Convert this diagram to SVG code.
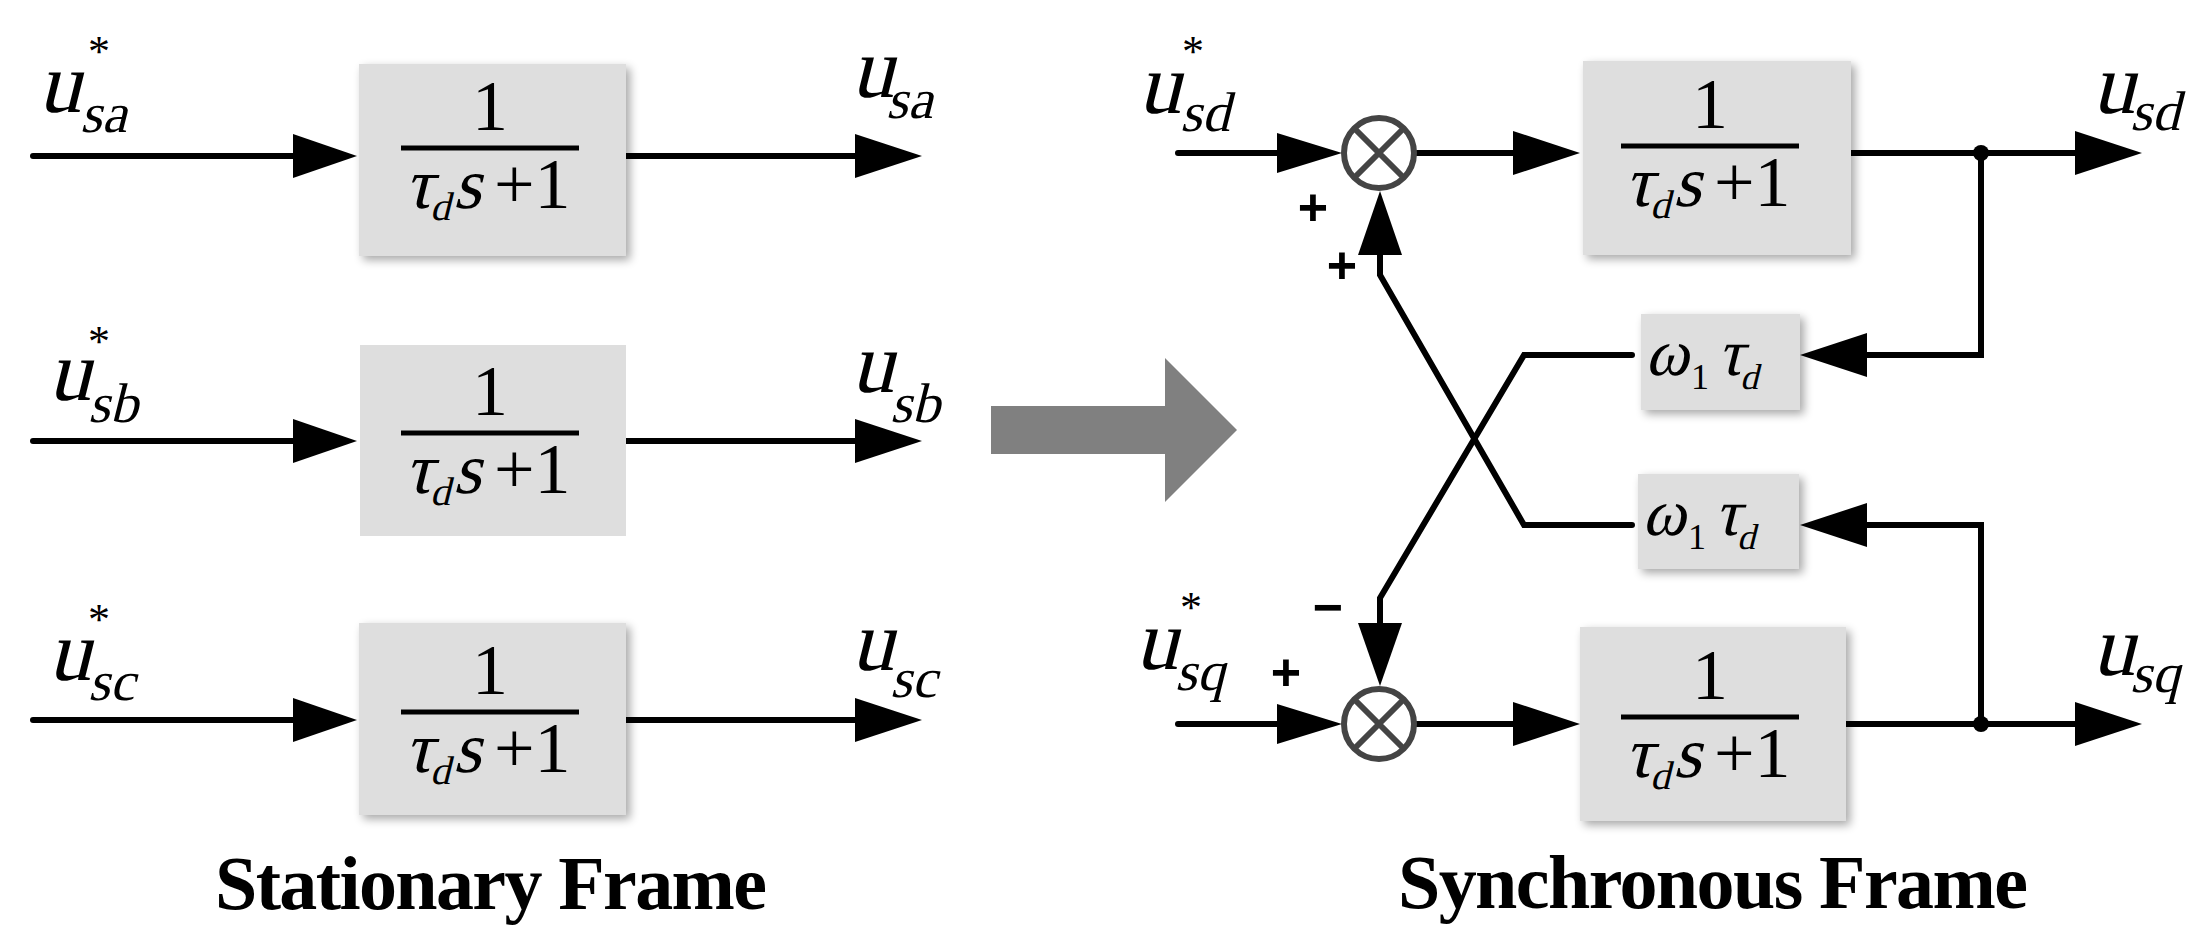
<svg xmlns="http://www.w3.org/2000/svg" width="2198" height="950" viewBox="0 0 2198 950">
<style>
.ln{stroke:#000;stroke-width:6;fill:none;stroke-linecap:round}
.bx{fill:#dedede}
.ah{fill:#000}
.v{font-family:"Liberation Serif","Times New Roman",serif;font-style:normal;fill:#000}
.n{font-family:"Liberation Serif","Times New Roman",serif;fill:#000}
.sg{font-family:"Liberation Sans",sans-serif;font-weight:bold;font-size:52px;fill:#000;text-anchor:middle}
.ttl{font-family:"Liberation Serif","Times New Roman",serif;font-weight:bold;font-size:76px;fill:#000;text-anchor:middle}
.sum{fill:#fff;stroke:#444;stroke-width:6}
</style>
<defs>
<filter id="sh" x="-10%" y="-10%" width="125%" height="125%"><feGaussianBlur in="SourceAlpha" stdDeviation="5"/><feOffset dx="4" dy="4"/><feComponentTransfer><feFuncA type="linear" slope="0.35"/></feComponentTransfer><feMerge><feMergeNode/><feMergeNode in="SourceGraphic"/></feMerge></filter>
<g id="frac">
<text class="n" x="0" y="-18" font-size="72" text-anchor="middle">1</text>
<line x1="-89" y1="0" x2="89" y2="0" stroke="#000" stroke-width="5"/>
<text class="v" font-size="72" transform="translate(-86 60) skewX(-14)">τ<tspan font-size="40" dy="12">d</tspan><tspan dy="-12">s</tspan></text>
<text class="n" x="4" y="60" font-size="72">+1</text>
</g>
<g id="gain">
<text class="v" font-size="66" transform="translate(4 61) skewX(-14)">ω</text>
<text class="n" x="50" y="75" font-size="36">1</text>
<text class="v" font-size="66" transform="translate(76 61) skewX(-14)">τ<tspan font-size="36" dy="14">d</tspan></text>
</g>
</defs>

<g id="connectors">
<line class="ln" x1="33" y1="156" x2="300" y2="156"/><polygon class="ah" points="293,134 357,156 293,178"/>
<line class="ln" x1="626" y1="156" x2="860" y2="156"/><polygon class="ah" points="855,134 922,156 855,178"/>
<line class="ln" x1="33" y1="441" x2="300" y2="441"/><polygon class="ah" points="293,419 357,441 293,463"/>
<line class="ln" x1="626" y1="441" x2="860" y2="441"/><polygon class="ah" points="855,419 922,441 855,463"/>
<line class="ln" x1="33" y1="720" x2="300" y2="720"/><polygon class="ah" points="293,698 357,720 293,742"/>
<line class="ln" x1="626" y1="720" x2="860" y2="720"/><polygon class="ah" points="855,698 922,720 855,742"/>

<polygon fill="#808080" points="991,406 1165,406 1165,358 1237,430 1165,502 1165,454 991,454"/>

<line class="ln" x1="1178" y1="153" x2="1285" y2="153"/><polygon class="ah" points="1277,133 1342,153 1277,173"/>
<line class="ln" x1="1417" y1="153" x2="1520" y2="153"/><polygon class="ah" points="1513,131 1580,153 1513,175"/>
<line class="ln" x1="1851" y1="153" x2="2080" y2="153"/><polygon class="ah" points="2075,131 2142,153 2075,175"/>
<line class="ln" x1="1178" y1="724" x2="1285" y2="724"/><polygon class="ah" points="1277,704 1342,724 1277,744"/>
<line class="ln" x1="1417" y1="724" x2="1520" y2="724"/><polygon class="ah" points="1513,702 1580,724 1513,746"/>
<line class="ln" x1="1846" y1="724" x2="2080" y2="724"/><polygon class="ah" points="2075,702 2142,724 2075,746"/>
<polyline class="ln" points="1981,153 1981,355 1860,355"/><polygon class="ah" points="1867,333 1800,355 1867,377"/>
<polyline class="ln" points="1981,724 1981,525 1860,525"/><polygon class="ah" points="1867,503 1800,525 1867,547"/>
<polyline class="ln" points="1632,355 1524,355 1380,598 1380,630"/><polygon class="ah" points="1358,623 1380,686 1402,623"/>
<polyline class="ln" points="1632,525 1524,525 1380,275 1380,250"/><polygon class="ah" points="1358,255 1380,191 1402,255"/>
<circle cx="1981" cy="153" r="8"/><circle cx="1981" cy="724" r="8"/>
</g>

<g id="block-a"><rect class="bx" x="359" y="64" width="267" height="192" filter="url(#sh)"/><use href="#frac" x="490" y="148"/></g>
<g id="block-b"><rect class="bx" x="360" y="345" width="266" height="191"/><use href="#frac" x="490" y="433"/></g>
<g id="block-c"><rect class="bx" x="359" y="623" width="267" height="192" filter="url(#sh)"/><use href="#frac" x="490" y="712"/></g>
<g id="block-d"><rect class="bx" x="1583" y="61" width="268" height="194" filter="url(#sh)"/><use href="#frac" x="1710" y="146"/></g>
<g id="block-q"><rect class="bx" x="1580" y="627" width="266" height="194" filter="url(#sh)"/><use href="#frac" x="1710" y="717"/></g>
<g id="gain-top"><rect class="bx" x="1641" y="314" width="159" height="96" filter="url(#sh)"/><use href="#gain" x="1641" y="314"/></g>
<g id="gain-bot"><rect class="bx" x="1638" y="474" width="161" height="95" filter="url(#sh)"/><use href="#gain" x="1638" y="474"/></g>
<g id="sum-d"><circle class="sum" cx="1379" cy="153" r="35"/><path d="M1354,128L1404,178M1404,128L1354,178" stroke="#444" stroke-width="6"/></g>
<g id="sum-q"><circle class="sum" cx="1379" cy="724" r="35"/><path d="M1354,699L1404,749M1404,699L1354,749" stroke="#444" stroke-width="6"/></g>

<g id="labels">
<text class="v" font-size="86" transform="translate(38 112) skewX(-14)">u</text><text class="n" x="88" y="66" font-size="44">*</text><text class="v" font-size="56" transform="translate(80 132) skewX(-14)">sa</text>
<text class="v" font-size="86" transform="translate(851 97) skewX(-14)">u</text><text class="v" font-size="56" transform="translate(886 118) skewX(-14)">sa</text>
<text class="v" font-size="86" transform="translate(48 400) skewX(-14)">u</text><text class="n" x="88" y="356" font-size="44">*</text><text class="v" font-size="56" transform="translate(88 422) skewX(-14)">sb</text>
<text class="v" font-size="86" transform="translate(851 392) skewX(-14)">u</text><text class="v" font-size="56" transform="translate(890 422) skewX(-14)">sb</text>
<text class="v" font-size="86" transform="translate(48 680) skewX(-14)">u</text><text class="n" x="88" y="634" font-size="44">*</text><text class="v" font-size="56" transform="translate(88 700) skewX(-14)">sc</text>
<text class="v" font-size="86" transform="translate(851 670) skewX(-14)">u</text><text class="v" font-size="56" transform="translate(890 697) skewX(-14)">sc</text>
<text class="v" font-size="86" transform="translate(1138 113) skewX(-14)">u</text><text class="n" x="1182" y="66" font-size="44">*</text><text class="v" font-size="56" transform="translate(1180 131) skewX(-14)">sd</text>
<text class="v" font-size="86" transform="translate(2092 113) skewX(-14)">u</text><text class="v" font-size="56" transform="translate(2130 130) skewX(-14)">sd</text>
<text class="v" font-size="86" transform="translate(1135 669) skewX(-14)">u</text><text class="n" x="1180" y="622" font-size="44">*</text><text class="v" font-size="56" transform="translate(1175 690) skewX(-14)">sq</text>
<text class="v" font-size="86" transform="translate(2092 675) skewX(-14)">u</text><text class="v" font-size="56" transform="translate(2130 692) skewX(-14)">sq</text>
<text class="sg" x="1313" y="225">+</text><text class="sg" x="1342" y="283">+</text>
<text class="sg" x="1328" y="625">−</text><text class="sg" x="1286" y="690">+</text>
<text class="ttl" x="491" y="909" textLength="552">Stationary Frame</text>
<text class="ttl" x="1713" y="908" textLength="630">Synchronous Frame</text>
</g>
</svg>
